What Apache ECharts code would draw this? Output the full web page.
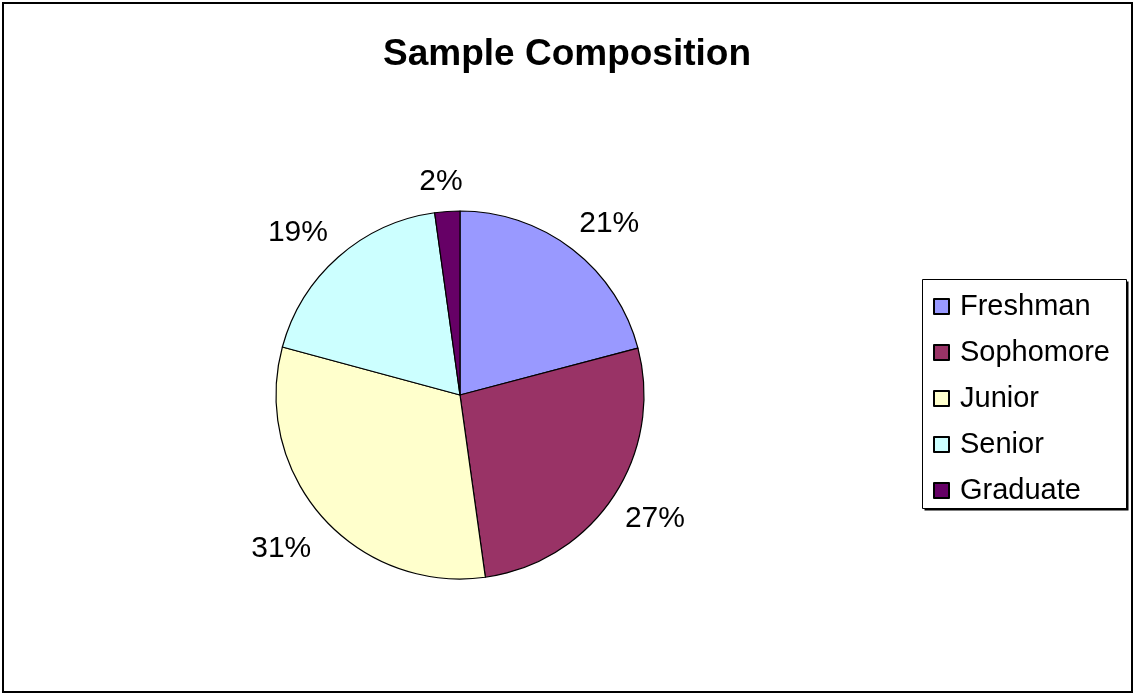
<!DOCTYPE html>
<html>
<head>
<meta charset="utf-8">
<title>Sample Composition</title>
<script src="https://cdn.jsdelivr.net/npm/echarts@6/dist/echarts.min.js"></script>
<style>
  html, body { margin: 0; padding: 0; background: #fff; }
  #chart { width: 1134px; height: 694px; }
</style>
</head>
<body>
<div id="chart"></div>
<script>
// data
const categories = ["Freshman", "Sophomore", "Junior", "Senior", "Graduate"];
const shares = [20.9, 26.9, 31.4, 18.6, 2.2];
const colors = ["#9999ff", "#993366", "#ffffcc", "#ccffff", "#660066"];

const font = "'Liberation Sans', Arial, sans-serif";
const center = [460, 395];
// small nudges so the labels sit where Excel put them
const labelNudge = [[7, 13], [1, -5], [-4, 0], [-8, 13], [-3, 19]];

let myChart = echarts.init(document.getElementById("chart"));

const sliceData = categories.map((name, i) => ({
  name: name,
  value: shares[i],
  itemStyle: { color: colors[i] }
}));

const option = {
  animation: false,
  backgroundColor: "#fff",
  title: {
    text: "Sample Composition",
    left: "center",
    top: 31,
    textStyle: { fontFamily: font, fontSize: 37, fontWeight: "bold", color: "#000" }
  },
  graphic: [
    {
      type: "rect",
      shape: { x: 3, y: 3, width: 1129, height: 689 },
      style: { fill: "none", stroke: "#000", lineWidth: 2 },
      silent: true
    },
    {
      // legend box with its shadow
      type: "rect",
      shape: { x: 924.5, y: 281.5, width: 204, height: 229 },
      style: { fill: "#000" },
      silent: true,
      z: 0
    },
    {
      type: "rect",
      shape: { x: 922.5, y: 279.5, width: 204, height: 229 },
      style: { fill: "#fff", stroke: "#000", lineWidth: 1 },
      silent: true,
      z: 1
    }
  ],
  legend: {
    orient: "vertical",
    left: 928,
    top: 287,
    data: categories,
    icon: "rect",
    itemWidth: 15,
    itemHeight: 15,
    itemGap: 17,
    z: 5,
    textStyle: { fontFamily: font, fontSize: 29, color: "#000", lineHeight: 29, padding: [0, 0, 0, 6] }
  },
  series: [
    {
      name: "Sample",
      type: "pie",
      center: center,
      radius: 184,
      startAngle: 90,
      clockwise: true,
      silent: true,
      itemStyle: { borderColor: "#000", borderWidth: 1.2 },
      label: { show: false },
      labelLine: { show: false },
      data: sliceData
    },
    {
      // labels only, ring outside the pie
      name: "labels",
      type: "pie",
      center: center,
      radius: [214, 246],
      startAngle: 90,
      clockwise: true,
      silent: true,
      percentPrecision: 0,
      itemStyle: { color: "rgba(0,0,0,0)", borderWidth: 0 },
      label: {
        show: true,
        position: "inside",
        formatter: "{d}%",
        fontFamily: font,
        fontSize: 30,
        color: "#000"
      },
      labelLine: { show: false },
      data: categories.map((name, i) => ({
        name: name,
        value: shares[i],
        label: { offset: labelNudge[i] }
      }))
    }
  ]
};

myChart.setOption(option);
</script>
</body>
</html>
